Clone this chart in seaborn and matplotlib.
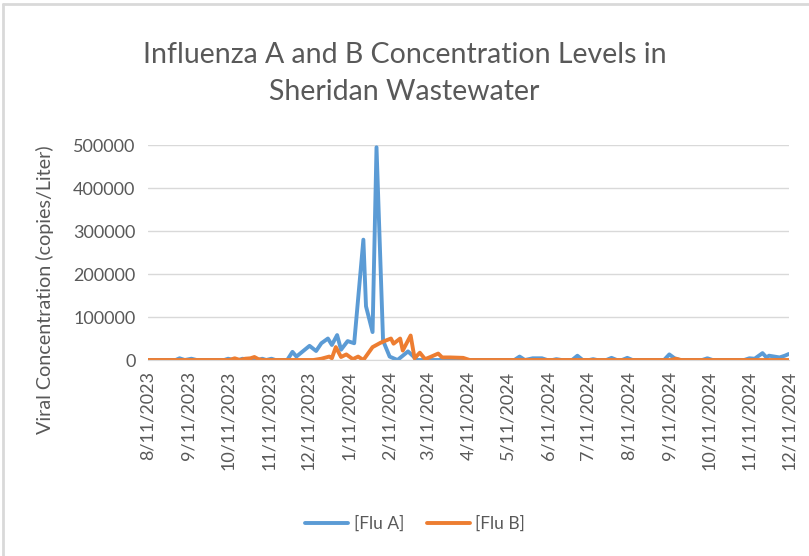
"""Influenza A/B wastewater concentration chart (Sheridan)."""
import matplotlib
matplotlib.use("Agg")
import matplotlib.dates as mdates
import matplotlib.pyplot as plt
import pandas as pd
import seaborn as sns
from matplotlib.lines import Line2D

# --- data ----------------------------------------------------------------
flu_a_dates = [
    "2023-08-11", "2023-09-01", "2023-09-04", "2023-09-08", "2023-09-13", "2023-09-17",
    "2023-10-08", "2023-10-11", "2023-10-15", "2023-10-19", "2023-10-22", "2023-10-26",
    "2023-11-03", "2023-11-06", "2023-11-09", "2023-11-13", "2023-11-16", "2023-11-25",
    "2023-11-29", "2023-12-02", "2023-12-12", "2023-12-17", "2023-12-21", "2023-12-26",
    "2023-12-29", "2024-01-02", "2024-01-05", "2024-01-10", "2024-01-15", "2024-01-22",
    "2024-01-24", "2024-01-29", "2024-02-01", "2024-02-06", "2024-02-11", "2024-02-17",
    "2024-02-25", "2024-03-03", "2024-03-20", "2024-03-24", "2024-04-01", "2024-04-05",
    "2024-05-16", "2024-05-20", "2024-05-24", "2024-05-30", "2024-06-06", "2024-06-10",
    "2024-06-14", "2024-06-17", "2024-06-21", "2024-06-29", "2024-07-03", "2024-07-07",
    "2024-07-12", "2024-07-15", "2024-07-18", "2024-07-25", "2024-07-29", "2024-08-02",
    "2024-08-06", "2024-08-10", "2024-08-14", "2024-09-07", "2024-09-11", "2024-09-15",
    "2024-09-19", "2024-10-06", "2024-10-10", "2024-10-14", "2024-11-07", "2024-11-11",
    "2024-11-15", "2024-11-21", "2024-11-24", "2024-11-26", "2024-12-04", "2024-12-08",
    "2024-12-11",
]
flu_a_values = [
    0, 0, 4000, 0, 3000, 0,
    0, 3000, 0, 0, 3000, 0,
    0, 3000, 0, 3000, 0, 0,
    19000, 8000, 33000, 21000, 39000, 50000,
    35000, 58000, 24000, 44000, 39000, 280000,
    125000, 65000, 495000, 45000, 8000, 0,
    20000, 0, 0, 3000, 3000, 0,
    0, 8000, 0, 4000, 4000, 0,
    0, 2000, 0, 0, 10000, 0,
    0, 2000, 0, 0, 5000, 0,
    0, 5000, 0, 0, 13000, 4000,
    0, 0, 4000, 0, 0, 4000,
    3000, 16000, 6000, 10000, 6000, 10000,
    14000,
]

flu_b_dates = [
    "2023-08-11", "2023-10-12", "2023-10-16", "2023-10-20", "2023-10-24", "2023-10-28",
    "2023-10-31", "2023-11-03", "2023-11-07", "2023-12-15", "2023-12-21", "2023-12-27",
    "2023-12-29", "2024-01-01", "2024-01-05", "2024-01-09", "2024-01-14", "2024-01-18",
    "2024-01-22", "2024-01-29", "2024-02-04", "2024-02-07", "2024-02-12", "2024-02-14",
    "2024-02-19", "2024-02-21", "2024-02-27", "2024-03-01", "2024-03-05", "2024-03-09",
    "2024-03-13", "2024-03-19", "2024-03-22", "2024-03-28", "2024-04-07", "2024-04-12",
    "2024-09-12", "2024-09-16", "2024-09-20", "2024-12-11",
]
flu_b_values = [
    0, 0, 4000, 0, 3000, 4000,
    7000, 2000, 0, 0, 3000, 8000,
    4000, 30000, 7000, 13000, 2000, 8000,
    0, 30000, 40000, 44000, 50000, 38000,
    50000, 22000, 57000, 4000, 17000, 2000,
    7000, 15000, 6000, 6000, 5000, 0,
    0, 3000, 0, 0,
]

tick_dates = pd.date_range("2023-08-01", "2024-12-01", freq="MS") + pd.Timedelta(days=10)

df = pd.concat([
    pd.DataFrame({"date": pd.to_datetime(flu_a_dates), "value": flu_a_values, "series": "[Flu A]"}),
    pd.DataFrame({"date": pd.to_datetime(flu_b_dates), "value": flu_b_values, "series": "[Flu B]"}),
])

# --- plot -----------------------------------------------------------------
sns.set_style("white")
plt.rcParams["font.family"] = ["Lato", "DejaVu Sans"]
txt = "#595959"

fig = plt.figure(figsize=(8.09, 5.56), dpi=100)
ax = fig.add_axes([0.183, 0.3525, 0.792, 0.3865])

sns.lineplot(data=df, x="date", y="value", hue="series",
             palette={"[Flu A]": "#5B9BD5", "[Flu B]": "#ED7D31"},
             linewidth=2.8, ax=ax, legend=False)

ax.set_xlim(pd.Timestamp("2023-08-11"), pd.Timestamp("2024-12-11"))
ax.set_ylim(0, 500000)
ax.set_yticks(range(0, 500001, 100000))
ax.yaxis.grid(True, color="#D9D9D9", linewidth=1)
ax.set_xticks(tick_dates)
ax.xaxis.set_major_formatter(mdates.DateFormatter("%-m/%-d/%Y"))
ax.tick_params(axis="x", rotation=90, labelsize=13, colors=txt, length=5, width=1, pad=3)
ax.tick_params(axis="x", color="#D9D9D9")
ax.tick_params(axis="y", labelsize=13, colors=txt, length=0, pad=9)
for s in ["top", "right", "left"]:
    ax.spines[s].set_visible(False)
ax.spines["bottom"].set_color("#D9D9D9")
ax.set_xlabel("")
ax.set_ylabel("Viral Concentration (copies/Liter)", fontsize=14.2, color=txt)
ax.yaxis.set_label_coords(-0.147, 0.326)

fig.text(0.5, 0.868, "Influenza A and B Concentration Levels in\nSheridan Wastewater",
         ha="center", va="center", fontsize=20.5, color=txt, linespacing=1.5)

handles = [Line2D([], [], color="#5B9BD5", linewidth=2.8),
           Line2D([], [], color="#ED7D31", linewidth=2.8)]
fig.legend(handles, ["[Flu A]", "[Flu B]"], loc="center", bbox_to_anchor=(0.513, 0.058),
           ncol=2, frameon=False, fontsize=12.5, labelcolor=txt, handlelength=2.5,
           columnspacing=1.3, handletextpad=0.3)

# chart border (top and left edges visible in the reference)
fig.add_artist(Line2D([0.004, 0.004], [0, 0.993], transform=fig.transFigure, color="#D9D9D9", lw=2))
fig.add_artist(Line2D([0.004, 1], [0.993, 0.993], transform=fig.transFigure, color="#D9D9D9", lw=2))

fig.savefig("out.png", dpi=100)
plt.close(fig)
